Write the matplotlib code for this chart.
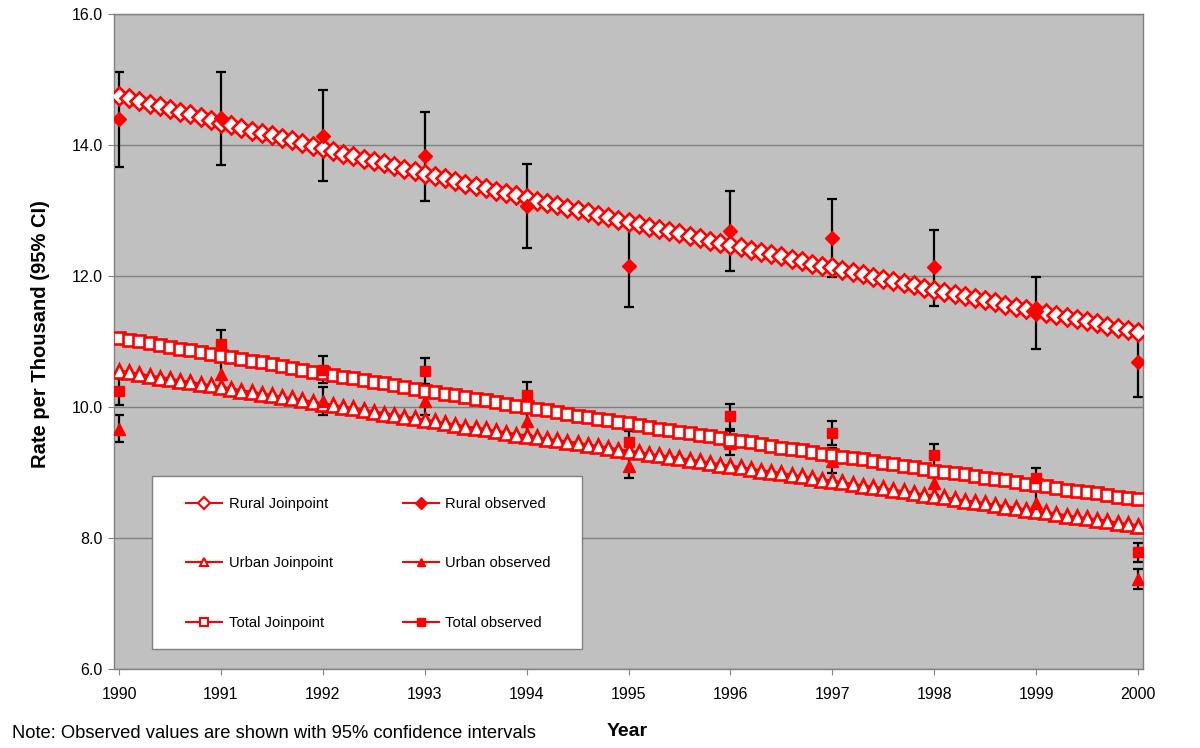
import numpy as np
import matplotlib
matplotlib.use('Agg')
import matplotlib.pyplot as plt
from matplotlib.lines import Line2D
from matplotlib.patches import Rectangle

plt.rcParams['font.family'] = ['Liberation Sans', 'DejaVu Sans']

years = [1990, 1991, 1992, 1993, 1994, 1995, 1996, 1997, 1998, 1999, 2000]

# observed rates with 95% CI
rural_obs = [14.39, 14.41, 14.14, 13.83, 13.07, 12.15, 12.68, 12.58, 12.13, 11.47, 10.68]
rural_lo = [13.66, 13.69, 13.45, 13.15, 12.42, 11.53, 12.07, 11.98, 11.54, 10.89, 10.16]
rural_hi = [15.11, 15.12, 14.84, 14.50, 13.71, 12.77, 13.29, 13.18, 12.70, 11.99, 11.20]

urban_obs = [9.67, 10.50, 10.09, 10.09, 9.78, 9.10, 9.45, 9.18, 8.84, 8.54, 7.38]
urban_lo = [9.46, 10.29, 9.88, 9.88, 9.57, 8.92, 9.26, 8.99, 8.66, 8.37, 7.22]
urban_hi = [9.88, 10.71, 10.30, 10.30, 9.99, 9.28, 9.64, 9.38, 9.02, 8.71, 7.53]

total_obs = [10.24, 10.96, 10.57, 10.55, 10.18, 9.47, 9.86, 9.60, 9.26, 8.91, 7.79]
total_lo = [10.03, 10.75, 10.37, 10.35, 9.98, 9.31, 9.66, 9.42, 9.09, 8.75, 7.63]
total_hi = [10.44, 11.17, 10.78, 10.75, 10.38, 9.63, 10.05, 9.79, 9.43, 9.07, 7.93]

# joinpoint fitted values, every 0.1 year 1990.0 .. 2000.0
jp_years = np.linspace(1990, 2000, 101)

rural_jp = [
    14.75, 14.71, 14.67, 14.63, 14.59, 14.55, 14.51, 14.47, 14.42, 14.38,
    14.34, 14.30, 14.26, 14.22, 14.18, 14.15, 14.11, 14.07, 14.03, 13.99,
    13.95, 13.91, 13.87, 13.83, 13.79, 13.75, 13.72, 13.68, 13.64, 13.60,
    13.56, 13.52, 13.49, 13.45, 13.41, 13.38, 13.34, 13.30, 13.26, 13.23,
    13.19, 13.15, 13.12, 13.08, 13.04, 13.01, 12.97, 12.93, 12.90, 12.86,
    12.82, 12.79, 12.75, 12.72, 12.68, 12.65, 12.61, 12.58, 12.54, 12.51,
    12.47, 12.44, 12.40, 12.37, 12.33, 12.30, 12.26, 12.23, 12.19, 12.16,
    12.13, 12.09, 12.06, 12.03, 11.99, 11.96, 11.93, 11.89, 11.86, 11.82,
    11.79, 11.76, 11.73, 11.69, 11.66, 11.63, 11.60, 11.56, 11.53, 11.50,
    11.47, 11.43, 11.40, 11.37, 11.34, 11.31, 11.28, 11.24, 11.21, 11.18,
    11.15,
]

urban_jp = [
    10.55, 10.53, 10.50, 10.48, 10.45, 10.43, 10.40, 10.38, 10.35, 10.33,
    10.30, 10.28, 10.25, 10.23, 10.20, 10.18, 10.15, 10.13, 10.10, 10.08,
    10.05, 10.03, 10.00, 9.98, 9.95, 9.93, 9.90, 9.88, 9.85, 9.83,
    9.80, 9.78, 9.75, 9.73, 9.70, 9.68, 9.66, 9.63, 9.61, 9.58,
    9.56, 9.54, 9.51, 9.49, 9.47, 9.45, 9.42, 9.40, 9.38, 9.35,
    9.33, 9.31, 9.28, 9.26, 9.24, 9.22, 9.19, 9.17, 9.15, 9.12,
    9.10, 9.08, 9.05, 9.03, 9.01, 8.99, 8.96, 8.94, 8.92, 8.89,
    8.87, 8.85, 8.82, 8.80, 8.78, 8.76, 8.73, 8.71, 8.69, 8.66,
    8.64, 8.62, 8.59, 8.57, 8.55, 8.53, 8.50, 8.48, 8.46, 8.43,
    8.41, 8.39, 8.37, 8.34, 8.32, 8.30, 8.28, 8.26, 8.23, 8.21,
    8.19,
]

total_jp = [
    11.06, 11.03, 11.01, 10.98, 10.95, 10.92, 10.89, 10.87, 10.84, 10.81,
    10.78, 10.76, 10.73, 10.70, 10.68, 10.65, 10.62, 10.60, 10.57, 10.54,
    10.52, 10.49, 10.46, 10.44, 10.41, 10.38, 10.36, 10.33, 10.30, 10.28,
    10.25, 10.23, 10.20, 10.18, 10.15, 10.12, 10.10, 10.07, 10.05, 10.02,
    10.00, 9.97, 9.95, 9.92, 9.90, 9.87, 9.85, 9.82, 9.80, 9.77,
    9.75, 9.72, 9.70, 9.67, 9.65, 9.62, 9.60, 9.58, 9.55, 9.53,
    9.50, 9.48, 9.46, 9.43, 9.41, 9.38, 9.36, 9.34, 9.31, 9.29,
    9.27, 9.24, 9.22, 9.20, 9.17, 9.15, 9.13, 9.10, 9.08, 9.06,
    9.03, 9.01, 8.99, 8.97, 8.94, 8.92, 8.90, 8.88, 8.85, 8.83,
    8.81, 8.79, 8.77, 8.74, 8.72, 8.70, 8.68, 8.66, 8.63, 8.61,
    8.59,
]

red = '#FF0000'

fig = plt.figure(figsize=(12, 7.48), dpi=100)
ax = fig.add_axes([0.095, 0.1056, 0.8575, 0.8757])
ax.set_facecolor('#C0C0C0')

# error bars underneath everything
for obs, lo, hi in [(rural_obs, rural_lo, rural_hi),
                    (urban_obs, urban_lo, urban_hi),
                    (total_obs, total_lo, total_hi)]:
    yerr = [np.array(obs) - np.array(lo), np.array(hi) - np.array(obs)]
    ax.errorbar(years, obs, yerr=yerr, fmt='none', ecolor='black',
                elinewidth=1.6, capsize=3.5, capthick=1.6, zorder=2.5)

ax.plot(jp_years, rural_jp, color=red, lw=2, marker='D', ms=9.5,
        mfc='white', mec=red, mew=1.9, zorder=3)
ax.plot(years, rural_obs, ls='none', marker='D', ms=7.5, color=red, zorder=4)
ax.plot(jp_years, urban_jp, color=red, lw=2, marker='^', ms=10,
        mfc='white', mec=red, mew=1.9, zorder=5)
ax.plot(years, urban_obs, ls='none', marker='^', ms=8, color=red, zorder=6)
ax.plot(jp_years, total_jp, color=red, lw=2, marker='s', ms=8.5,
        mfc='white', mec=red, mew=1.9, zorder=7)
ax.plot(years, total_obs, ls='none', marker='s', ms=7, color=red, zorder=8)

ax.set_xlim(1989.95, 2000.05)
ax.set_ylim(6, 16)
ax.set_xticks(years)
ax.set_xticklabels([str(y) for y in years])
ax.set_yticks([6, 8, 10, 12, 14, 16])
ax.set_yticklabels(['%.1f' % v for v in [6, 8, 10, 12, 14, 16]])
ax.tick_params(axis='both', labelsize=11.5, color='#808080', length=4)
ax.tick_params(axis='x', pad=9)
ax.tick_params(axis='y', pad=4)
ax.grid(axis='y', color='#808080', lw=1)
ax.set_axisbelow(True)
for s in ax.spines.values():
    s.set_color('#808080')
    s.set_linewidth(1)

# legend box
ax.add_patch(Rectangle((0.0369, 0.0305), 0.4179, 0.2641, transform=ax.transAxes,
                       facecolor='white', edgecolor='#808080', lw=1, zorder=9))

handles = [
    Line2D([], [], color=red, lw=1.5, marker='D', ms=6, mfc='white', mec=red, mew=1.5),
    Line2D([], [], color=red, lw=1.5, marker='^', ms=6, mfc='white', mec=red, mew=1.5),
    Line2D([], [], color=red, lw=1.5, marker='s', ms=6, mfc='white', mec=red, mew=1.5),
    Line2D([], [], color=red, lw=1.5, marker='D', ms=6),
    Line2D([], [], color=red, lw=1.5, marker='^', ms=6),
    Line2D([], [], color=red, lw=1.5, marker='s', ms=6),
]
labels = ['Rural Joinpoint', 'Urban Joinpoint', 'Total Joinpoint',
          'Rural observed', 'Urban observed', 'Total observed']
leg = ax.legend(handles, labels, ncol=2, loc='upper left',
                bbox_to_anchor=(0.070, 0.263), fontsize=10.6,
                handlelength=2.45, handletextpad=0.45, columnspacing=4.75,
                labelspacing=3.1, borderpad=0, borderaxespad=0,
                frameon=False)
leg.set_zorder(10)

fig.text(0.034, 0.553, 'Rate per Thousand (95% CI)', rotation=90,
         fontsize=14.5, fontweight='bold', ha='center', va='center')
fig.text(0.523, 0.022, 'Year', fontsize=14, fontweight='bold',
         ha='center', va='center')
fig.text(0.01, 0.02, 'Note: Observed values are shown with 95% confidence intervals',
         fontsize=13.2, ha='left', va='center')

fig.savefig('out.png', dpi=100)
